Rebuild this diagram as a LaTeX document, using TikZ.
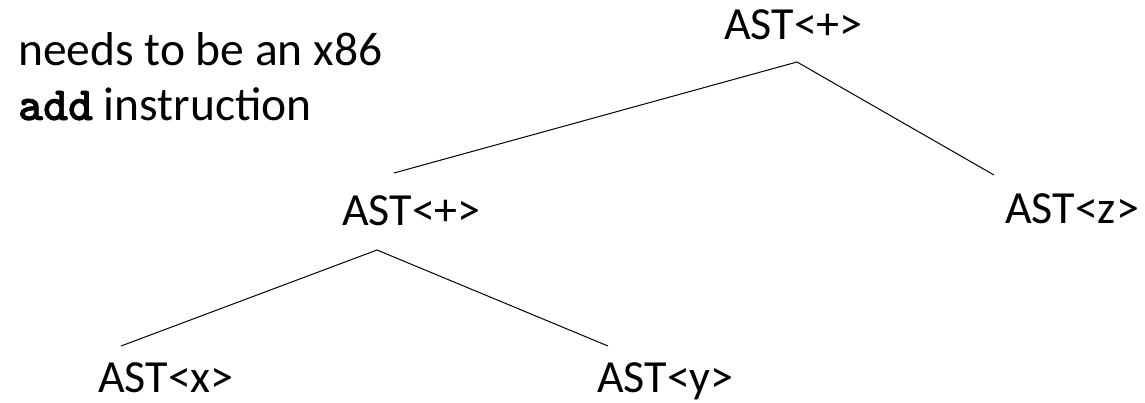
\documentclass[tikz,border=0pt]{standalone}
\usepackage{fontspec}
\setmainfont{Carlito}
\newfontfamily\codefont{lmmonolt10-bold}[Extension=.otf, FakeBold=1.5]
\usepackage{tikz}
\usetikzlibrary{
    positioning,
    calc
}
\tikzset{
    astnode/.style={
        inner sep=0pt,
        anchor=base west,
        font=\fontsize{46}{52}\selectfont
    },
    note/.style={
        inner sep=0pt,
        anchor=base west,
        align=left,
        font=\fontsize{47.5}{55}\selectfont
    },
    edge/.style={
        line width=1pt
    }
}

\begin{document}
\begin{tikzpicture}[x=1pt, y=-1pt]
\useasboundingbox (0,0) rectangle (1145,402);

% base west of a two-line node is the last line's baseline
\node[note] (hint) at (18,120) {needs to be an x86\\{\codefont add} instruction};

\node[astnode] (root) at (724,39) {AST<+>};
\node[astnode] (plus) at (342,225) {AST<+>};
\node[astnode] (z) at (1005,223) {AST<z>};
\node[astnode] (x) at (98,392) {AST<x>};
\node[astnode] (y) at (597,392) {AST<y>};

% joints where the edges meet
\coordinate (rootjoin) at ($(root.base west)+(73,23)$);
\coordinate (plusjoin) at ($(plus.base west)+(35,25)$);
\coordinate (plustop) at ($(plus.base west)+(52,-52)$);
\coordinate (ztop) at ($(z.base west)+(-11,-48)$);
\coordinate (xtop) at ($(x.base west)+(23,-46)$);
\coordinate (ytop) at ($(y.base west)+(11,-46)$);

\draw[edge] (plustop) -- (rootjoin) -- (ztop);
\draw[edge] (xtop) -- (plusjoin) -- (ytop);
\end{tikzpicture}
\end{document}
